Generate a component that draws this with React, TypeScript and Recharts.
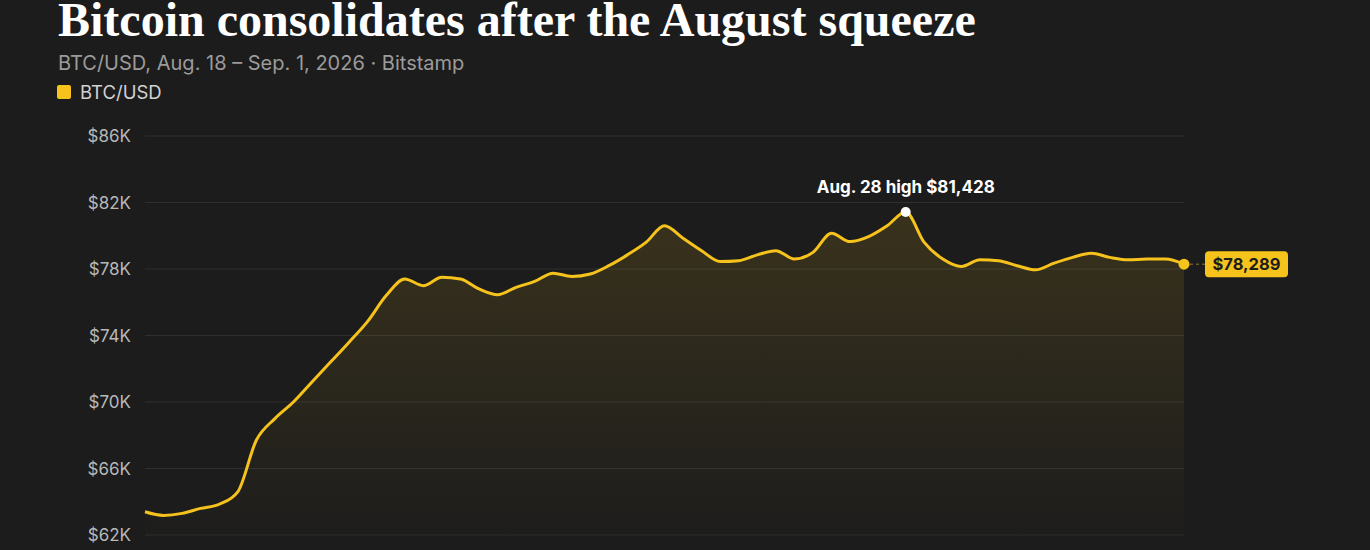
import React from 'react';
import {
  AreaChart,
  Area,
  XAxis,
  YAxis,
  CartesianGrid,
  ReferenceDot,
} from 'recharts';

// 6-hourly closes, Aug. 18 00h – Sep. 1 00h ($K)
const times = [
  '08-18 00h', '08-18 06h', '08-18 12h', '08-18 18h',
  '08-19 00h', '08-19 06h', '08-19 12h', '08-19 18h',
  '08-20 00h', '08-20 06h', '08-20 12h', '08-20 18h',
  '08-21 00h', '08-21 06h', '08-21 12h', '08-21 18h',
  '08-22 00h', '08-22 06h', '08-22 12h', '08-22 18h',
  '08-23 00h', '08-23 06h', '08-23 12h', '08-23 18h',
  '08-24 00h', '08-24 06h', '08-24 12h', '08-24 18h',
  '08-25 00h', '08-25 06h', '08-25 12h', '08-25 18h',
  '08-26 00h', '08-26 06h', '08-26 12h', '08-26 18h',
  '08-27 00h', '08-27 06h', '08-27 12h', '08-27 18h',
  '08-28 00h', '08-28 06h', '08-28 12h', '08-28 18h',
  '08-29 00h', '08-29 06h', '08-29 12h', '08-29 18h',
  '08-30 00h', '08-30 06h', '08-30 12h', '08-30 18h',
  '08-31 00h', '08-31 06h', '08-31 12h', '08-31 18h',
  '09-01 00h',
];

const btc = [
  63.4, 63.18, 63.3, 63.6,
  63.85, 64.6, 67.7, 69.0,
  70.0, 71.2, 72.4, 73.6,
  74.85, 76.4, 77.4, 77.0,
  77.5, 77.4, 76.8, 76.45,
  76.9, 77.25, 77.75, 77.55,
  77.7, 78.2, 78.85, 79.6,
  80.6, 79.85, 79.1, 78.45,
  78.5, 78.85, 79.1, 78.6,
  79.0, 80.15, 79.65, 79.95,
  80.6, 81.428, 79.6, 78.6,
  78.15, 78.55, 78.5, 78.2,
  77.95, 78.35, 78.7, 78.95,
  78.7, 78.55, 78.6, 78.6,
  78.289,
];

const yTicks = [62, 66, 70, 74, 78, 82, 86];

const peakTime = '08-28 06h';
const peakValue = 81.428;
const lastTime = '09-01 00h';
const lastValue = 78.289;

const data = times.map((t, i) => ({ t, price: btc[i] }));

const YELLOW = '#f6c21c';
const BG = '#1c1c1c';
const SANS = 'Inter, "Noto Sans", sans-serif';

const PeakDot = (props: any) => {
  const { cx, cy } = props;
  return (
    <g>
      <circle cx={cx} cy={cy} r={5} fill="#ffffff" />
      <text
        x={cx}
        y={cy - 19}
        textAnchor="middle"
        fill="#ffffff"
        fontSize={17}
        fontWeight={700}
        fontFamily={SANS}
      >
        Aug. 28 high $81,428
      </text>
    </g>
  );
};

const LastDot = (props: any) => {
  const { cx, cy } = props;
  return (
    <g>
      <line x1={cx + 6} y1={cy} x2={cx + 21} y2={cy} stroke="#8a7a3a" strokeDasharray="3 3" />
      <circle cx={cx} cy={cy} r={5.5} fill={YELLOW} />
      <rect x={cx + 21} y={cy - 13} width={83} height={26} rx={4} fill={YELLOW} />
      <text
        x={cx + 62.5}
        y={cy + 6}
        textAnchor="middle"
        fill="#1c1c1c"
        fontSize={16.5}
        fontWeight={700}
        fontFamily={SANS}
      >
        $78,289
      </text>
    </g>
  );
};

export default function App() {
  return (
    <div
      style={{
        position: 'absolute',
        left: 0,
        top: 0,
        width: 1370,
        height: 550,
        overflow: 'hidden',
        background: BG,
      }}
    >
      <div
        style={{
          position: 'absolute',
          left: 58,
          top: 0,
          fontFamily: '"Liberation Serif", "DejaVu Serif", serif',
          fontWeight: 700,
          fontSize: 48,
          lineHeight: '40px',
          color: '#ffffff',
          whiteSpace: 'nowrap',
        }}
      >
        Bitcoin consolidates after the August squeeze
      </div>
      <div
        style={{
          position: 'absolute',
          left: 58,
          top: 53,
          fontFamily: SANS,
          fontSize: 20,
          lineHeight: '20px',
          color: '#9b9b9b',
          whiteSpace: 'nowrap',
        }}
      >
        BTC/USD, Aug. 18 – Sep. 1, 2026 · Bitstamp
      </div>
      <div
        style={{
          position: 'absolute',
          left: 57,
          top: 83,
          display: 'flex',
          alignItems: 'center',
          fontFamily: SANS,
          fontSize: 18.5,
          lineHeight: '18.5px',
          color: '#d2d2d2',
        }}
      >
        <span
          style={{
            display: 'inline-block',
            width: 14,
            height: 14,
            borderRadius: 2,
            background: YELLOW,
            marginRight: 9,
          }}
        />
        BTC/USD
      </div>
      <div style={{ position: 'absolute', left: 0, top: 0 }}>
        <AreaChart
          width={1370}
          height={600}
          data={data}
          margin={{ top: 136, right: 186, left: 65, bottom: 65 }}
        >
          <defs>
            <linearGradient id="btcFill" x1="0" y1="0" x2="0" y2="1">
              <stop offset="0%" stopColor={YELLOW} stopOpacity={0.22} />
              <stop offset="100%" stopColor={YELLOW} stopOpacity={0.01} />
            </linearGradient>
          </defs>
          <CartesianGrid vertical={false} stroke="#2f2f2f" />
          <XAxis dataKey="t" hide />
          <YAxis
            width={80}
            domain={[62, 86]}
            ticks={yTicks}
            tickFormatter={(v: number) => `$${v}K`}
            tick={{ fontSize: 17, fill: '#b8b8b8', fontFamily: SANS }}
            axisLine={false}
            tickLine={false}
            tickMargin={8}
          />
          <Area
            type="monotone"
            dataKey="price"
            stroke={YELLOW}
            strokeWidth={3}
            fill="url(#btcFill)"
            dot={false}
            activeDot={false}
            isAnimationActive={false}
          />
          <ReferenceDot x={peakTime} y={peakValue} shape={<PeakDot />} />
          <ReferenceDot x={lastTime} y={lastValue} shape={<LastDot />} />
        </AreaChart>
      </div>
    </div>
  );
}
